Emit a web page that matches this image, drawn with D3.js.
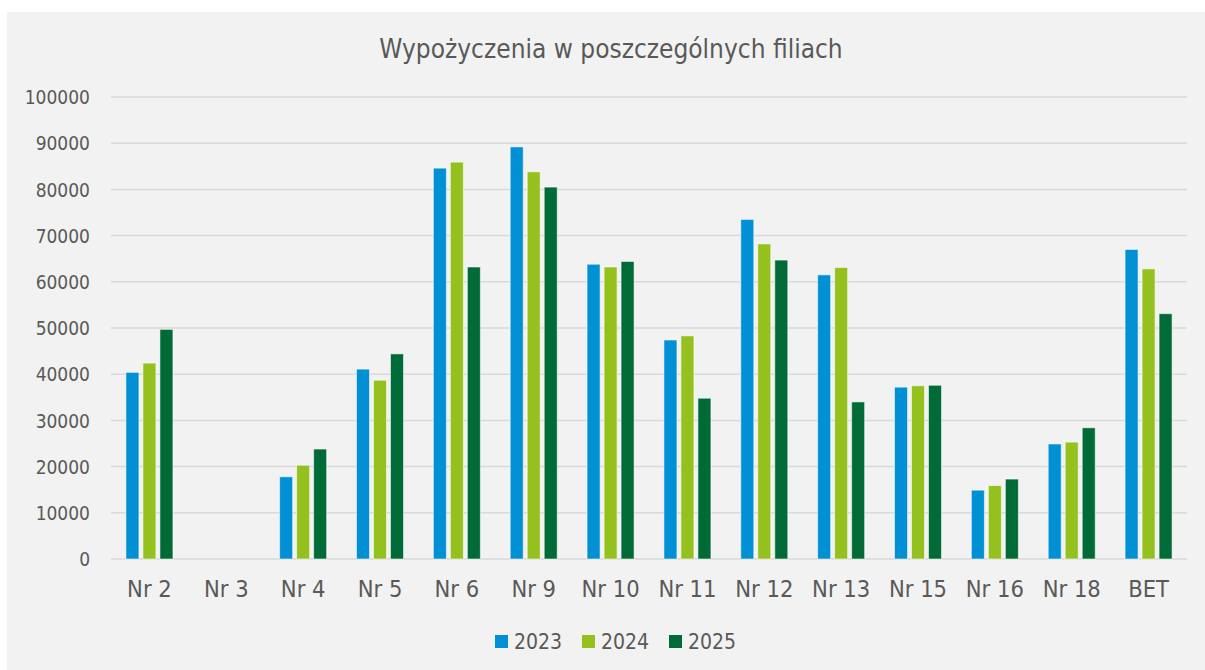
<!DOCTYPE html>
<html><head><meta charset="utf-8">
<script src="https://cdn.jsdelivr.net/npm/d3@7"></script>
<style>
html,body{margin:0;padding:0;background:#ffffff;}
svg text{font-family:"DejaVu Sans",sans-serif;font-stretch:condensed;fill:#595959;}
</style></head>
<body>
<svg id="chart" width="1205" height="670"></svg>
<script>
const title = "Wypożyczenia w poszczególnych filiach";
const categories = ["Nr 2","Nr 3","Nr 4","Nr 5","Nr 6","Nr 9","Nr 10","Nr 11","Nr 12","Nr 13","Nr 15","Nr 16","Nr 18","BET"];
const seriesNames = ["2023","2024","2025"];
const values2023 = [40400, null, 17800, 41100, 84600, 89200, 63800, 47400, 73500, 61500, 37200, 14900, 24900, 67000];
const values2024 = [42400, null, 20300, 38700, 85900, 83800, 63200, 48300, 68200, 63100, 37500, 15900, 25300, 62800];
const values2025 = [49700, null, 23800, 44400, 63200, 80500, 64400, 34800, 64700, 34000, 37600, 17300, 28400, 53100];
const yTicks = [0,10000,20000,30000,40000,50000,60000,70000,80000,90000,100000];
const colors = ["#0090D3","#95C11F","#006B37"];

const series = [values2023, values2024, values2025];
const svg = d3.select("#chart");

svg.append("rect").attr("x",7).attr("y",12).attr("width",1205-7).attr("height",670-12).attr("fill","#f2f2f2");

const plotLeft = 111, plotRight = 1187, plotTop = 97, plotBottom = 559;
const x = d3.scaleBand().domain(categories).range([plotLeft,plotRight]).paddingInner(0).paddingOuter(0);
const xs = d3.scaleBand().domain(seriesNames).range([0, 51]).paddingInner(0);
const y = d3.scaleLinear().domain([0,100000]).range([plotBottom, plotTop]);

// gridlines
svg.append("g").selectAll("line").data(yTicks).join("line")
  .attr("x1",plotLeft).attr("x2",plotRight)
  .attr("y1",d=>y(d)).attr("y2",d=>y(d))
  .attr("stroke","#d9d9d9").attr("stroke-width",1.5);

// y axis labels
const yAxis = d3.axisLeft(y).tickValues(yTicks).tickSize(0).tickPadding(0).tickFormat(d3.format("d"));
const gy = svg.append("g").attr("transform",`translate(90,0)`).call(yAxis);
gy.select(".domain").remove();
gy.selectAll("text").attr("font-size",19).attr("fill","#595959").style("font-family","DejaVu Sans").attr("dy","0.35em");

// x axis labels
const xAxis = d3.axisBottom(x).tickSize(0).tickPadding(0);
const gx = svg.append("g").attr("transform",`translate(0,${plotBottom})`).call(xAxis);
gx.select(".domain").remove();
gx.selectAll("text").attr("font-size",23.5).style("font-family","DejaVu Sans").attr("fill","#595959").attr("y",30).attr("dy","0.35em");

// bars
const groupOffset = (x.bandwidth() - 48)/2;
seriesNames.forEach((s,i)=>{
  svg.append("g").selectAll("rect").data(categories.map((c,j)=>({c, v:series[i][j]})).filter(d=>d.v!=null)).join("rect")
    .attr("x", d=> x(d.c) + groupOffset + xs(s) + 0.5)
    .attr("width", 13)
    .attr("y", d=> y(d.v))
    .attr("height", d=> y(0) - y(d.v))
    .attr("fill", colors[i])
    .attr("stroke","#ffffff").attr("stroke-opacity",0.55).attr("stroke-width",1);
});

// title
svg.append("text").attr("x",611).attr("y",49).attr("text-anchor","middle").attr("dy","0.35em")
  .attr("font-size",26).text(title);

// legend
const legendX = [495, 582, 669];
const lg = svg.append("g");
seriesNames.forEach((s,i)=>{
  lg.append("rect").attr("x",legendX[i]).attr("y",635).attr("width",13).attr("height",13).attr("fill",colors[i]);
  lg.append("text").attr("x",legendX[i]+19).attr("y",641.5).attr("dy","0.35em").attr("font-size",21).text(s);
});
</script>
</body></html>
